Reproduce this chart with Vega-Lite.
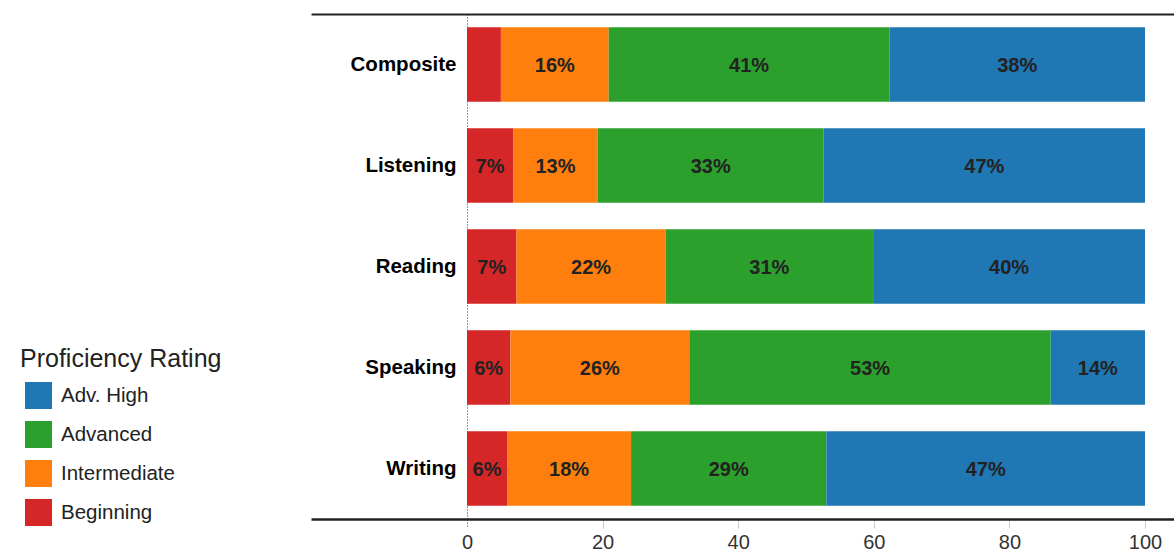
{
  "$schema": "https://vega.github.io/schema/vega-lite/v6.json",
  "width": 863,
  "height": 505,
  "autosize": {"type": "none"},
  "padding": {"left": 311, "top": 14, "right": 0, "bottom": 34},
  "background": "white",
  "config": {"view": {"stroke": null}, "font": "Liberation Sans"},
  "data": {
    "values": [
      {"category": "Composite", "rating": "Beginning", "order": 1, "value": 5.0, "label": ""},
      {"category": "Composite", "rating": "Intermediate", "order": 2, "value": 15.9, "label": "16%"},
      {"category": "Composite", "rating": "Advanced", "order": 3, "value": 41.4, "label": "41%"},
      {"category": "Composite", "rating": "Adv. High", "order": 4, "value": 37.7, "label": "38%"},
      {"category": "Listening", "rating": "Beginning", "order": 1, "value": 6.8, "label": "7%"},
      {"category": "Listening", "rating": "Intermediate", "order": 2, "value": 12.5, "label": "13%"},
      {"category": "Listening", "rating": "Advanced", "order": 3, "value": 33.3, "label": "33%"},
      {"category": "Listening", "rating": "Adv. High", "order": 4, "value": 47.4, "label": "47%"},
      {"category": "Reading", "rating": "Beginning", "order": 1, "value": 7.3, "label": "7%"},
      {"category": "Reading", "rating": "Intermediate", "order": 2, "value": 22.0, "label": "22%"},
      {"category": "Reading", "rating": "Advanced", "order": 3, "value": 30.6, "label": "31%"},
      {"category": "Reading", "rating": "Adv. High", "order": 4, "value": 40.1, "label": "40%"},
      {"category": "Speaking", "rating": "Beginning", "order": 1, "value": 6.4, "label": "6%"},
      {"category": "Speaking", "rating": "Intermediate", "order": 2, "value": 26.4, "label": "26%"},
      {"category": "Speaking", "rating": "Advanced", "order": 3, "value": 53.3, "label": "53%"},
      {"category": "Speaking", "rating": "Adv. High", "order": 4, "value": 13.9, "label": "14%"},
      {"category": "Writing", "rating": "Beginning", "order": 1, "value": 5.9, "label": "6%"},
      {"category": "Writing", "rating": "Intermediate", "order": 2, "value": 18.3, "label": "18%"},
      {"category": "Writing", "rating": "Advanced", "order": 3, "value": 28.8, "label": "29%"},
      {"category": "Writing", "rating": "Adv. High", "order": 4, "value": 47.0, "label": "47%"}
    ]
  },
  "transform": [
    {"stack": "value", "groupby": ["category"], "sort": [{"field": "order", "order": "ascending"}], "as": ["x0", "x1"]},
    {"calculate": "(datum.x0 + datum.x1) / 2", "as": "xm"}
  ],
  "encoding": {
    "y": {
      "field": "category",
      "type": "nominal",
      "sort": ["Composite", "Listening", "Reading", "Speaking", "Writing"],
      "scale": {"paddingInner": 0.26, "paddingOuter": 0.13},
      "axis": {
        "title": null,
        "offset": -156,
        "ticks": false,
        "domain": true,
        "domainColor": "#333",
        "domainDash": [1, 2],
        "domainWidth": 1,
        "labelPadding": 11,
        "labelFontSize": 20.5,
        "labelFontWeight": "bold",
        "labelColor": "#000"
      }
    }
  },
  "layer": [
    {
      "mark": {"type": "bar"},
      "encoding": {
        "x": {
          "field": "x0",
          "type": "quantitative",
          "scale": {"domain": [-23.01, 104.28], "nice": false, "zero": false},
          "axis": {
            "orient": "bottom",
            "title": null,
            "values": [0, 20, 40, 60, 80, 100],
            "grid": false,
            "domainColor": "#222",
            "domainWidth": 2.5,
            "tickSize": 9,
            "tickColor": {"condition": {"test": "datum.value === 0", "value": "#333"}, "value": "#ccc"},
            "tickDash": {"condition": {"test": "datum.value === 0", "value": [1, 2]}, "value": []},
            "labelFontSize": 20,
            "labelColor": "#333",
            "labelPadding": 4,
            "labelFlush": false
          }
        },
        "x2": {"field": "x1"},
        "color": {
          "field": "rating",
          "type": "nominal",
          "scale": {
            "domain": ["Adv. High", "Advanced", "Intermediate", "Beginning"],
            "range": ["#1f77b4", "#2ca02c", "#ff7f0e", "#d62728"]
          },
          "legend": {
            "orient": "none",
            "legendX": -291,
            "legendY": 333,
            "title": "Proficiency Rating",
            "titleLimit": 400,
            "titleFontSize": 25,
            "titleFontWeight": "normal",
            "titleColor": "#222",
            "titlePadding": 10,
            "labelFontSize": 20.5,
            "labelColor": "#222",
            "symbolType": "square",
            "symbolSize": 729,
            "symbolStrokeWidth": 0,
            "symbolOpacity": 1,
            "rowPadding": 12,
            "labelOffset": 9,
            "symbolOffset": 5,
            "padding": 0
          }
        }
      }
    },
    {
      "mark": {"type": "text", "fontSize": 20, "fontWeight": "bold", "color": "#222", "align": "center", "baseline": "middle", "dy": 1},
      "encoding": {
        "x": {
          "field": "xm",
          "type": "quantitative",
          "axis": {
            "orient": "top",
            "title": null,
            "labels": false,
            "ticks": false,
            "grid": false,
            "domainColor": "#222",
            "domainWidth": 2
          }
        },
        "text": {"field": "label"}
      }
    }
  ],
  "resolve": {"axis": {"x": "independent"}}
}
